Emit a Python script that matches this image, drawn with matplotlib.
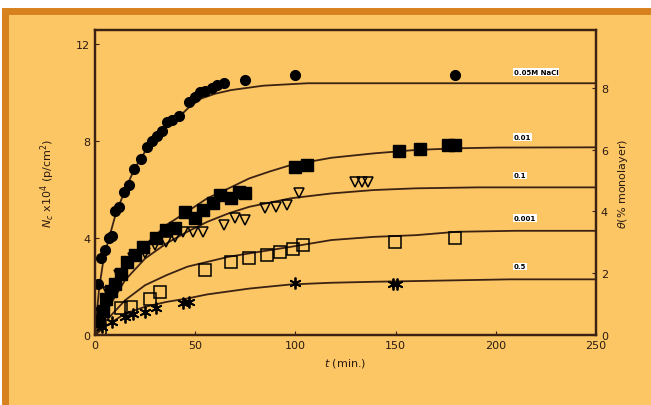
import numpy as np
import matplotlib
matplotlib.use("Agg")
import matplotlib.pyplot as plt
from matplotlib.patches import Rectangle

# measured points (t in min, N_c on left axis)
t1 = [1.5, 3, 5.2, 7, 8.6, 10.2, 12, 14.4, 16.9, 19.4, 22.7, 26, 28.5, 31, 33.5, 36, 38.5, 41.8, 46.8, 50, 52.6, 55, 58.5, 61, 64.3, 74.6, 100, 179.5]
n1 = [2.1, 3.2, 3.5, 4.0, 4.1, 5.1, 5.3, 5.9, 6.2, 6.85, 7.26, 7.74, 8.0, 8.2, 8.43, 8.77, 8.85, 9.04, 9.6, 9.8, 10.0, 10.05, 10.2, 10.3, 10.4, 10.53, 10.7, 10.7]

t2 = [2, 4, 5.6, 8, 10, 12.8, 16, 20, 24, 30.4, 35.6, 39.8, 45, 50, 54, 59, 62.5, 67.7, 71.8, 75, 99.8, 106, 151.5, 162, 176, 179.5]
n2 = [0.6, 1.0, 1.51, 1.8, 2.1, 2.54, 3.02, 3.3, 3.64, 3.99, 4.33, 4.4, 5.09, 4.81, 5.15, 5.43, 5.77, 5.64, 5.91, 5.84, 6.94, 7.01, 7.6, 7.67, 7.84, 7.84]

t3 = [3, 6.6, 11.8, 19, 25, 30, 35.6, 40, 44, 49, 54, 64.6, 70, 75, 85, 90.5, 95.6, 102, 129.8, 133, 136]
n3 = [0.9, 1.79, 2.47, 3.16, 3.4, 3.71, 3.85, 4.05, 4.26, 4.26, 4.26, 4.54, 4.81, 4.74, 5.22, 5.29, 5.36, 5.84, 6.32, 6.32, 6.32]

t4 = [2.5, 12.8, 18, 27.3, 32.5, 55, 67.7, 77, 86, 92.5, 98.8, 104, 149.5, 179.5]
n4 = [0.27, 1.1, 1.17, 1.51, 1.79, 2.68, 3.02, 3.16, 3.3, 3.44, 3.57, 3.71, 3.85, 3.99]

t5 = [3.5, 8.7, 15, 19, 25, 30.4, 44, 47, 99.8, 148.5, 150.5]
n5 = [0.34, 0.55, 0.76, 0.89, 0.96, 1.1, 1.31, 1.35, 2.13, 2.09, 2.09]

# fitted curves
ft1 = [0, 1, 2, 4, 6, 8, 10, 15, 20, 26, 33.5, 42, 47, 53, 60, 68, 84, 106, 250]
fn1 = [0, 1.0, 1.9, 3.0, 3.7, 4.3, 4.9, 6.0, 6.9, 7.7, 8.4, 9.0, 9.4, 9.75, 9.95, 10.1, 10.28, 10.38, 10.38]

ft2 = [0, 5, 10, 15, 25, 35.6, 46, 56, 66.7, 77, 87, 97.7, 118, 139, 160, 180.5, 201, 250]
fn2 = [0, 1.05, 1.92, 2.68, 3.71, 4.54, 5.09, 5.64, 6.05, 6.46, 6.74, 7.01, 7.31, 7.49, 7.63, 7.7, 7.73, 7.74]

ft3 = [0, 5, 15, 25, 35.6, 46, 56, 66.7, 77, 97.7, 118, 139, 160, 191, 250]
fn3 = [0, 0.9, 2.27, 3.16, 3.78, 4.26, 4.67, 5.02, 5.29, 5.64, 5.84, 5.98, 6.05, 6.09, 6.09]

ft4 = [0, 5, 15, 25, 35.6, 46, 56, 66.7, 77, 97.7, 118, 139, 160, 180.5, 209.5, 250]
fn4 = [0, 0.55, 1.44, 2.06, 2.47, 2.82, 3.02, 3.23, 3.37, 3.64, 3.92, 4.05, 4.12, 4.26, 4.30, 4.30]

ft5 = [0, 5, 15, 25, 35.6, 46, 56, 77, 97.7, 118, 139, 160, 207, 250]
fn5 = [0, 0.35, 0.89, 1.17, 1.37, 1.51, 1.68, 1.92, 2.09, 2.16, 2.2, 2.23, 2.30, 2.30]

labels = ["0.05M NaCl", "0.01", "0.1", "0.001", "0.5"]
label_y = [10.72, 8.04, 6.46, 4.7, 2.71]
label_x = [209, 209, 209, 209, 209]

brown = "#3b2212"
bg = "#fcc665"

fig = plt.figure(figsize=(6.51, 4.06), dpi=100)
fig.patch.set_facecolor("white")

# orange frame behind everything
bgax = fig.add_axes([0, 0, 1, 1], zorder=-1)
bgax.set_xlim(0, 1)
bgax.set_ylim(0, 1)
bgax.axis('off')
bgax.add_patch(Rectangle((0.008, -0.01), 1.0, 0.98, facecolor=bg,
                         edgecolor="#d8811f", linewidth=5))

ax = fig.add_axes([0.146, 0.172, 0.7695, 0.752])
ax.set_facecolor(bg)

for ft, fn in [(ft1, fn1), (ft2, fn2), (ft3, fn3), (ft4, fn4), (ft5, fn5)]:
    ax.plot(ft, fn, color=brown, lw=1.3, zorder=2)

ax.plot(t1, n1, 'o', color='black', markersize=7, zorder=3)
ax.plot(t2, n2, 's', color='black', markersize=8, zorder=3)
ax.plot(t3, n3, 'v', mfc='none', mec='black', markersize=7.5, mew=1.1, zorder=3)
ax.plot(t4, n4, 's', mfc='none', mec='black', markersize=8, mew=1.1, zorder=3)
ax.plot(t5, n5, marker=(6, 2, 0), ls='none', color='black', markersize=8.5, mew=1.3, zorder=3)

for lx, ly, lab in zip(label_x, label_y, labels):
    ax.text(lx, ly, lab, fontsize=5, fontweight='bold', color='black', va='bottom',
            bbox=dict(facecolor='white', edgecolor='none', pad=0.6), zorder=4)

ax.set_xlim(0, 250)
ax.set_ylim(0, 12.58)
ax.set_xticks([0, 50, 100, 150, 200, 250])
ax.set_yticks([0, 4, 8, 12])
ax.tick_params(direction='in', length=3, color=brown, labelsize=8, labelcolor='#2a1a10')
for s in ax.spines.values():
    s.set_color(brown)
    s.set_linewidth(1.6)

ax.set_xlabel(r"$t$ (min.)", fontsize=8, color='#2a1a10', labelpad=4)
ax.set_ylabel(r"$N_c$ x10$^4$ (p/cm$^2$)", fontsize=8, color='#2a1a10', labelpad=14)

ax2 = ax.twinx()
ax2.set_ylim(0, 9.87)
ax2.set_yticks([0, 2, 4, 6, 8])
ax2.tick_params(direction='in', length=3, color=brown, labelsize=8, labelcolor='#2a1a10')
for s in ax2.spines.values():
    s.set_color(brown)
    s.set_linewidth(1.6)
ax2.set_ylabel(r"$\theta$(% monolayer)", fontsize=8, color='#2a1a10', rotation=90, labelpad=6)

fig.savefig("out.png", dpi=100, facecolor=fig.get_facecolor())
